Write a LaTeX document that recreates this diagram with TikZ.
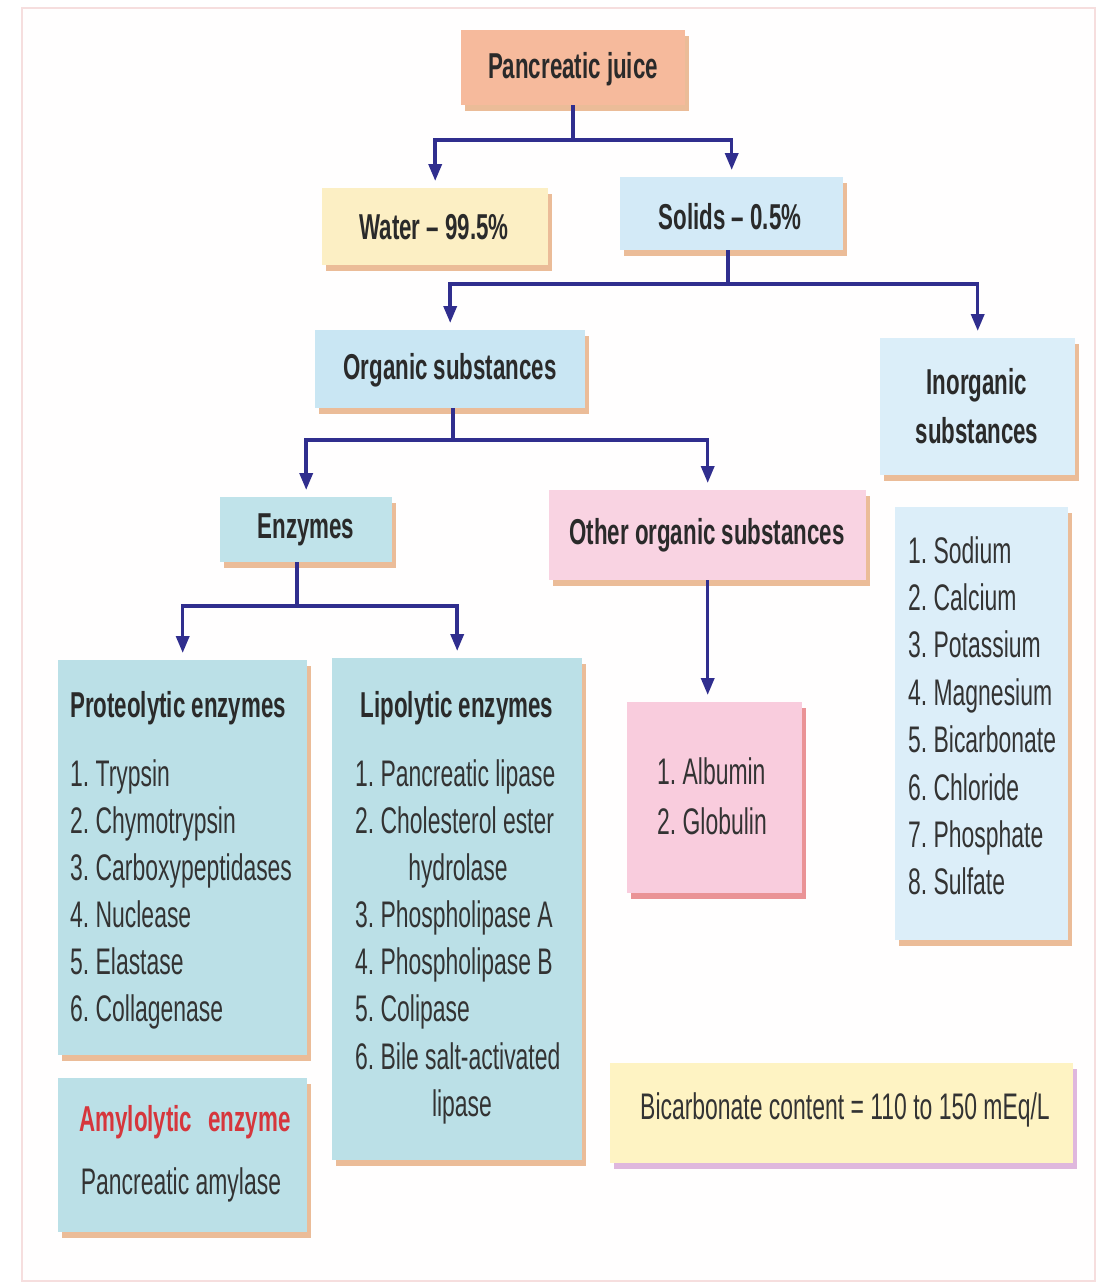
\documentclass[tikz,border=0pt]{standalone}
\usepackage{fontspec}
\setmainfont[FakeStretch=0.62]{Liberation Sans}
\usetikzlibrary{arrows.meta,shadows}
\definecolor{framec}{HTML}{F6DEDE}
\definecolor{bgc}{HTML}{FFFEFE}
\definecolor{pjc}{HTML}{F6BA9C}
\definecolor{watc}{HTML}{FCEFC4}
\definecolor{solc}{HTML}{D3EAF7}
\definecolor{orgc}{HTML}{C9E6F3}
\definecolor{inorgc}{HTML}{DBEEF9}
\definecolor{enzc}{HTML}{C0E3EA}
\definecolor{othc}{HTML}{F9D3E2}
\definecolor{cyanc}{HTML}{BBE0E7}
\definecolor{albc}{HTML}{F9CCDD}
\definecolor{inlc}{HTML}{DCEEF9}
\definecolor{bicc}{HTML}{FEF3C3}
\definecolor{navy}{HTML}{302E8E}
\definecolor{tc}{HTML}{2A2A2A}
\definecolor{lc}{HTML}{333333}
\definecolor{redt}{HTML}{D6363C}
\definecolor{shor}{HTML}{E3A16E}
\definecolor{shred}{HTML}{E2666A}
\definecolor{shpur}{HTML}{D29AD0}
\newcommand{\nsp}{\hspace{0.17em}}
\tikzset{
  bx/.style={rectangle, inner sep=0pt, anchor=north west, fill=#1},
  shad/.style={drop shadow={shadow xshift=4pt, shadow yshift=-6pt, fill=#1, opacity=0.7}},
  txt/.style={inner sep=0pt, text=lc, font=\fontsize{37}{44}\selectfont},
  hd/.style={inner sep=0pt, text=tc, font=\fontsize{36}{44}\selectfont\bfseries},
  link/.style={draw=navy, line width=3.5pt},
  arr/.style={link, -{Triangle[length=17pt,width=13pt]}, shorten >=7pt}
}
\begin{document}
\begin{tikzpicture}[x=1pt,y=-1pt]
\useasboundingbox (0,0) rectangle (1096,1286);
\fill[white] (0,0) rectangle (1096,1286);
\draw[framec, line width=2pt, fill=bgc] (22,8) rectangle (1095,1281);

% boxes
\node[bx=pjc, shad=shor, minimum width=224pt, minimum height=75pt] (pj) at (461,30) {};
\node[bx=watc, shad=shor, minimum width=226pt, minimum height=77pt] (wat) at (322,188) {};
\node[bx=solc, shad=shor, minimum width=223pt, minimum height=73pt] (sol) at (620,177) {};
\node[bx=orgc, shad=shor, minimum width=270pt, minimum height=78pt] (org) at (315,330) {};
\node[bx=inorgc, shad=shor, minimum width=195pt, minimum height=137pt] (inorg) at (880,338) {};
\node[bx=enzc, shad=shor, minimum width=172pt, minimum height=65pt] (enz) at (220,497) {};
\node[bx=othc, shad=shor, minimum width=317pt, minimum height=90pt] (oth) at (549,490) {};
\node[bx=cyanc, shad=shor, minimum width=249pt, minimum height=395pt] (prot) at (58,660) {};
\node[bx=cyanc, shad=shor, minimum width=249pt, minimum height=154pt] (amy) at (58,1078) {};
\node[bx=cyanc, shad=shor, minimum width=250pt, minimum height=502pt] (lip) at (332,658) {};
\node[bx=albc, shad=shred, minimum width=175pt, minimum height=191pt] (alb) at (627,702) {};
\node[bx=inlc, shad=shor, minimum width=173pt, minimum height=433pt] (inl) at (895,507) {};
\node[bx=bicc, shad=shpur, minimum width=463pt, minimum height=100pt] (bic) at (610,1063) {};

% connectors
\coordinate (jA) at (573,140);
\coordinate (jB) at (728,284);
\coordinate (jC) at (453,440);
\coordinate (jD) at (297,606);
\draw[link] (jA |- pj.south) -- (jA);
\draw[arr] (jA) -| (wat.north);
\draw[arr] (jA) -| (sol.north);
\draw[link] (jB |- sol.south) -- (jB);
\draw[arr] (jB) -| (org.north);
\draw[arr] (jB) -| (inorg.north);
\draw[link] (jC |- org.south) -- (jC);
\draw[arr] (jC) -| (enz.north);
\draw[arr] (jC) -| (oth.north);
\draw[link] (jD |- enz.south) -- (jD);
\draw[arr] (jD) -| (prot.north);
\draw[arr] (jD) -| (lip.north);
\draw[arr] (oth.south) -- (oth.south |- alb.north);

% texts
\node[hd, anchor=base] (pjt) at (573,78) {Pancreatic juice};
\node[hd, anchor=base] (watt) at (434,239) {Water – 99.5\%};
\node[hd, anchor=base] (solt) at (730,229) {Solids – 0.5\%};
\node[hd, anchor=base] (orgt) at (450,379) {Organic substances};
\node[hd, anchor=base] (inorgt1) at (977,394) {Inorganic};
\node[hd, anchor=base] (inorgt2) at (977,443) {substances};
\node[hd, anchor=base] (enzt) at (306,538) {Enzymes};
\node[hd, anchor=base] (otht) at (707,544) {Other organic substances};

\node[hd, anchor=base west] (prott) at (70,717) {Proteolytic enzymes};
\foreach \t [count=\i] in {Trypsin, Chymotrypsin, Carboxypeptidases, Nuclease, Elastase, Collagenase}
  \node[txt, anchor=base west] (p\i) at (70,{786+47*(\i-1)}) {\i.\nsp\t};

\node[hd, anchor=base, text=redt] (amyt) at (185,1131) {Amylolytic\hspace{0.45em}enzyme};
\node[txt, anchor=base] (amyt2) at (181,1194) {Pancreatic amylase};

\node[hd, anchor=base] (lipt) at (457,717) {Lipolytic enzymes};
\node[txt, anchor=base west] (l1) at (355,786) {1.\nsp Pancreatic lipase};
\node[txt, anchor=base west] (l2) at (355,833) {2.\nsp Cholesterol ester};
\node[txt, anchor=base] (l3) at (458,880) {hydrolase};
\node[txt, anchor=base west] (l4) at (355,927) {3.\nsp Phospholipase A};
\node[txt, anchor=base west] (l5) at (355,974) {4.\nsp Phospholipase B};
\node[txt, anchor=base west] (l6) at (355,1021) {5.\nsp Colipase};
\node[txt, anchor=base west] (l7) at (355,1069) {6.\nsp Bile salt-activated};
\node[txt, anchor=base] (l8) at (462,1116) {lipase};

\node[txt, anchor=base west] (a1) at (657,784) {1.\nsp Albumin};
\node[txt, anchor=base west] (a2) at (657,834) {2.\nsp Globulin};

\foreach \t [count=\i] in {Sodium, Calcium, Potassium, Magnesium, Bicarbonate, Chloride, Phosphate, Sulfate}
  \node[txt, anchor=base west] (n\i) at (908,{563+47.4*(\i-1)}) {\i.\nsp\t};

\node[txt, anchor=base] (bict) at (845,1119) {Bicarbonate content = 110 to 150 mEq/L};
\end{tikzpicture}
\end{document}
